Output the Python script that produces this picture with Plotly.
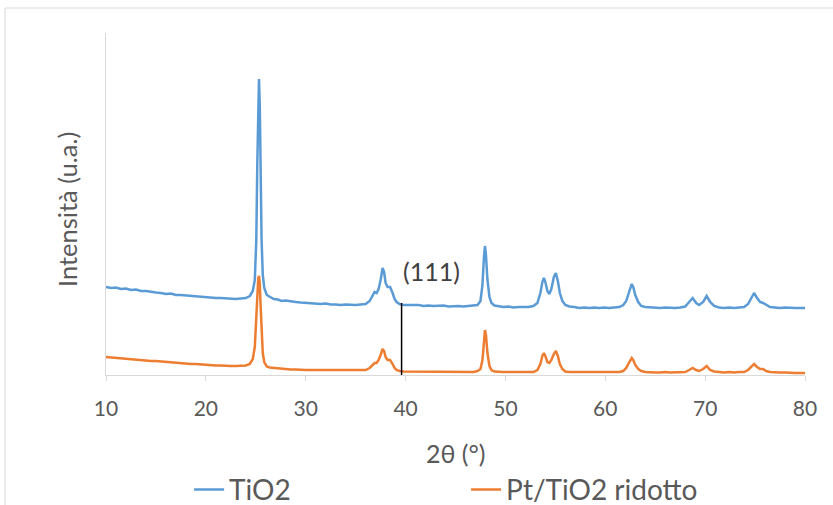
import plotly.graph_objects as go

# 2-theta positions (degrees)
two_theta = [
    10.0, 10.5, 11.0, 11.5, 12.0, 12.5, 13.0, 13.5, 14.0, 14.5, 15.0, 15.5, 16.0, 16.5, 17.0, 17.5, 18.0, 18.5, 19.0, 19.5,
    20.0, 20.5, 21.0, 21.5, 22.0, 22.5, 23.0, 23.5, 24.0, 24.4, 24.7, 24.9, 25.05, 25.15, 25.25, 25.32, 25.4, 25.48, 25.58, 25.7,
    25.85, 26.1, 26.4, 26.8, 27.2, 27.6, 28.0, 28.5, 29.0, 29.5, 30.0, 30.5, 31.0, 31.5, 32.0, 32.5, 33.0, 33.5, 34.0, 34.5,
    35.0, 35.5, 36.0, 36.4, 36.7, 36.9, 37.1, 37.3, 37.5, 37.7, 37.85, 38.0, 38.2, 38.45, 38.7, 38.9, 39.1, 39.4, 39.8, 40.3,
    40.8, 41.3, 41.8, 42.3, 42.8, 43.3, 43.8, 44.3, 44.8, 45.3, 45.8, 46.3, 46.8, 47.2, 47.5, 47.7, 47.85, 47.95, 48.05, 48.2,
    48.4, 48.6, 48.9, 49.3, 49.8, 50.3, 50.8, 51.3, 51.8, 52.3, 52.8, 53.2, 53.5, 53.7, 53.85, 54.0, 54.2, 54.4, 54.6, 54.85,
    55.05, 55.25, 55.45, 55.7, 56.0, 56.4, 56.9, 57.4, 57.9, 58.4, 58.9, 59.4, 59.9, 60.4, 60.9, 61.4, 61.8, 62.1, 62.35, 62.55,
    62.65, 62.8, 63.0, 63.3, 63.6, 64.0, 64.5, 65.0, 65.5, 66.0, 66.5, 67.0, 67.5, 68.0, 68.4, 68.75, 69.1, 69.4, 69.8, 70.15,
    70.5, 70.9, 71.4, 71.9, 72.4, 72.9, 73.4, 73.9, 74.3, 74.6, 74.9, 75.2, 75.5, 75.8, 76.1, 76.5, 77.0, 77.5, 78.0, 78.5,
    79.0, 79.5, 80.0,
]

# TiO2 intensity (a.u., offset trace)
tio2 = [
    88, 87, 87.5, 86, 86.5, 85, 85.5, 84, 84, 83, 82.5, 82, 81, 81.5, 80, 80, 79.5, 79, 78.5, 78,
    78, 77.5, 77, 77, 76.5, 76.5, 76, 76.5, 77, 79, 84, 95, 135, 210, 280, 296, 270, 200, 135, 100,
    87, 80, 78, 76, 75.5, 74, 74.5, 73.5, 73, 72.5, 72, 72, 71.5, 71, 71.5, 70.5, 70.5, 70, 70.5, 70,
    70, 70.5, 71, 74, 80, 83, 82, 86, 95, 107, 103, 92, 88, 88, 82, 76, 73, 71, 70, 70,
    69.5, 70, 69, 69.5, 69, 69, 69.5, 68.5, 69, 69, 68.5, 69, 69, 70, 74, 90, 118, 129, 120, 95,
    78, 72, 69.5, 68.5, 68, 68.5, 67.5, 68, 68, 68, 69, 72, 82, 93, 97, 93, 84, 81, 86, 98,
    102, 94, 82, 74, 70, 68.5, 68, 67, 67.5, 67, 67.5, 67, 67.5, 67, 67.5, 68, 70, 74, 82, 89,
    91, 88, 80, 73, 69, 68, 67.5, 67, 67, 67.5, 67, 67, 67.5, 68.5, 73, 77, 72, 70, 73, 79,
    73, 69, 67.5, 67, 67.5, 67, 67.5, 68, 71, 77, 82, 77, 73, 72, 70, 68, 67.5, 67, 67.5, 67,
    67, 67, 67,
]

# Pt/TiO2 ridotto intensity (a.u.)
pt_tio2 = [
    18, 17.5, 17, 16.5, 16, 15.5, 15.5, 15, 14.5, 14, 14, 13.5, 13, 13, 12, 12, 11.5, 11, 11, 10.5,
    10, 10, 9.5, 9.5, 9, 9, 9, 9, 9.5, 11, 16, 28, 55, 84, 97, 99, 92, 70, 42, 22,
    13, 8.5, 7.5, 7, 6.5, 6, 6, 5.5, 5.5, 5, 5, 5, 5, 4.5, 5, 4.5, 4.5, 4.5, 4.5, 4.5,
    4.5, 4.5, 5, 7, 10, 12, 12, 15, 20, 26, 24, 18, 15, 15, 11, 7, 5, 4, 3.5, 3.5,
    3.5, 3.5, 3, 3.5, 3, 3, 3.5, 3, 3, 3, 3, 3, 3, 4, 6, 15, 35, 45, 40, 22,
    9, 5, 3.5, 3, 3, 3, 3, 2.5, 3, 3, 3, 5, 11, 19, 22, 19, 13, 12, 15, 21,
    24, 19, 11, 6, 3.5, 3, 3, 2.5, 3, 2.5, 3, 2.5, 3, 2.5, 3, 3, 4, 7, 12, 16,
    17, 15, 10, 6, 4, 3, 2.5, 2.5, 2.5, 3, 2.5, 2.5, 3, 3, 5, 7, 5, 4, 6, 9,
    5, 3.5, 3, 2.5, 3, 2.5, 3, 3, 5, 8, 11, 8, 6, 6, 4, 3, 2.5, 2.5, 2.5, 2,
    2, 2, 2,
]

x_ticks = [10, 20, 30, 40, 50, 60, 70, 80]
marker_theta = 39.6
marker_top = 72
marker_label = "(111)"

FONT = "Lato, 'Open Sans', sans-serif"
TXT = "#595959"
AXIS = "#D9D9D9"

fig = go.Figure()
fig.add_trace(go.Scatter(x=two_theta, y=tio2, mode="lines", name="TiO2",
                         line=dict(color="#5B9BD5", width=2.5)))
fig.add_trace(go.Scatter(x=two_theta, y=pt_tio2, mode="lines", name="Pt/TiO2 ridotto",
                         line=dict(color="#ED7D31", width=2.5)))

# (111) marker line
fig.add_shape(type="line", xref="x", yref="y", x0=marker_theta, x1=marker_theta,
              y0=-2, y1=marker_top, line=dict(color="black", width=1.5))
fig.add_annotation(x=42.6, y=104, xref="x", yref="y", text=marker_label, showarrow=False,
                   font=dict(family=FONT, size=25, color="#404040"))

# outer chart border
fig.add_shape(type="rect", xref="paper", yref="paper", x0=-0.1445, x1=2, y0=-2, y1=1.073,
              line=dict(color=AXIS, width=1), layer="below")

# axis titles
fig.add_annotation(x=0.5, y=-0.228, xref="paper", yref="paper", text="2θ (°)", showarrow=False,
                   font=dict(family=FONT, size=25, color=TXT), xanchor="center", yanchor="middle")
fig.add_annotation(x=-0.056, y=0.485, xref="paper", yref="paper", text="Intensità (u.a.)",
                   showarrow=False, textangle=-90, xanchor="center", yanchor="middle",
                   font=dict(family=FONT, size=25.5, color=TXT))

fig.update_layout(
    width=833, height=505,
    margin=dict(l=106, r=28, t=33, b=130, autoexpand=False),
    paper_bgcolor="white", plot_bgcolor="white",
    font=dict(family=FONT, color=TXT, size=20),
    showlegend=True,
    legend=dict(orientation="h", xref="container", yref="container",
                x=0.227, xanchor="left", y=0.03, yanchor="middle",
                entrywidth=232, entrywidthmode="pixels",
                bgcolor="rgba(0,0,0,0)",
                font=dict(family=FONT, size=28, color=TXT)),
    xaxis=dict(range=[10, 80], tickvals=x_ticks, showgrid=False, zeroline=False,
               showline=True, linecolor=AXIS, linewidth=1,
               ticks="outside", ticklen=5, tickcolor=AXIS, ticklabelstandoff=10,
               tickfont=dict(family=FONT, size=21, color=TXT)),
    yaxis=dict(range=[0, 342], showgrid=False, zeroline=False, showticklabels=False,
               showline=True, linecolor=AXIS, linewidth=1, ticks=""),
)

fig.write_html("out.html", config={"displayModeBar": False},
               post_script="document.body.style.margin='0';document.body.style.overflow='hidden';")
